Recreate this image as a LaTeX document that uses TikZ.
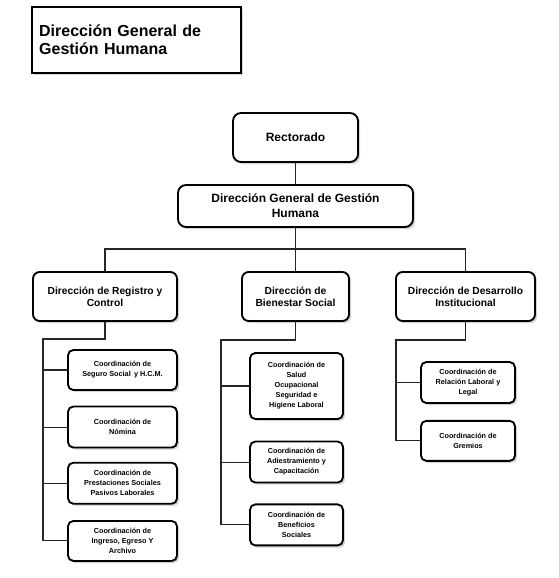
\documentclass[tikz,border=0pt]{standalone}
\usepackage{fontspec}
\setmainfont{Liberation Sans}
\usepackage{tikz}
\usetikzlibrary {positioning,
                 shadows}
\tikzset{
        base/.style={draw, line width=1.4pt, align=center, rounded corners=5pt,
                     fill=white, inner sep=1pt,
                     drop shadow={opacity=0.35, shadow xshift=1.6pt,
                                  shadow yshift=-1.6pt}},
        titlebox/.style={base, rounded corners=0pt, align=left, inner xsep=5.2pt,
                         text width=146pt, minimum height=49.5pt,
                         font=\fontsize{12}{13.75}\selectfont\bfseries},
        topbox/.style={base, rounded corners=6pt, minimum height=36.75pt,
                       font=\fontsize{9}{11.25}\selectfont\bfseries},
        dirbox/.style={base, minimum height=36.75pt,
                       font=\fontsize{7.7}{9}\selectfont\bfseries},
        coordbox/.style={base, minimum height=30pt, rounded corners=4pt,
                         font=\fontsize{5.45}{7.5}\selectfont\bfseries},
        myline/.style={line width=0.8pt, black!85},
 }

\begin{document}
\begin{tikzpicture}[x=0.75pt, y=-0.75pt]
    \useasboundingbox (0,0) rectangle (558,578);

    \node[titlebox] (title) at (136.5,40) {Dirección General de\\Gestión Humana};

    \node[topbox, minimum width=93.75pt] (rect) at (295.5,137.5) {Rectorado};
    \node[topbox, minimum width=176.25pt, minimum height=31.5pt] (dg) at (295.5,206)
        {Dirección General de Gestión\\Humana};

    \node[dirbox, minimum width=108pt] (reg) at (105,296.5) {Dirección de Registro y\\Control};
    \node[dirbox, minimum width=80.25pt] (bien) at (295.5,296.5) {Dirección de\\Bienestar Social};
    \node[dirbox, minimum width=104.25pt] (des) at (465.5,296.5) {Dirección de Desarrollo\\Institucional};

    % Registro y Control
    \node[coordbox, minimum width=81.75pt] (reg1) at (122.5,370)
        {Coordinación de\\Seguro Social\, y H.C.M.};
    \node[coordbox, minimum width=81.75pt, minimum height=30.75pt, below=11pt of reg1] (reg2)
        {Coordinación de\\Nómina};
    \node[coordbox, minimum width=81.75pt, minimum height=30.75pt, below=10pt of reg2] (reg3)
        {Coordinación de\\Prestaciones Sociales\\Pasivos Laborales};
    \node[coordbox, minimum width=81.75pt, below=11.5pt of reg3] (reg4)
        {Coordinación de\\Ingreso, Egreso Y\\Archivo};

    % Bienestar Social
    \node[coordbox, minimum width=69.75pt, minimum height=49.5pt] (bien1) at (296.5,386)
        {Coordinación de\\Salud\\Ocupacional\\Seguridad e\\Higiene Laboral};
    \node[coordbox, minimum width=69.75pt, minimum height=30.75pt, below=15.5pt of bien1] (bien2)
        {Coordinación de\\Adiestramiento y\\Capacitación};
    \node[coordbox, minimum width=69.75pt, minimum height=30.75pt, below=15pt of bien2] (bien3)
        {Coordinación de\\Beneficios\\Sociales};

    % Desarrollo Institucional
    \node[coordbox, minimum width=70.5pt, minimum height=30.75pt] (des1) at (468,382.5)
        {Coordinación de\\Relación Laboral y\\Legal};
    \node[coordbox, minimum width=70.5pt, below=12pt of des1] (des2)
        {Coordinación de\\Gremios};

    \coordinate (bus) at (295.5,249);
    \coordinate (regspine) at (43,339);
    \coordinate (bienspine) at (221,340);
    \coordinate (desspine) at (396,340);

    \draw[myline] (rect) -- (dg);
    \draw[myline] (dg) -- (bus);
    \draw[myline] (reg.north) |- (bus) -| (des.north);
    \draw[myline] (bus) -- (bien.north);

    \draw[myline] (reg.south) |- (regspine) |- (reg4.west);
    \foreach \n in {reg1,reg2,reg3}
        \draw[myline] (regspine |- \n.west) -- (\n.west);

    \draw[myline] (bien.south) |- (bienspine) |- (bien3.west);
    \foreach \n in {bien1,bien2}
        \draw[myline] (bienspine |- \n.west) -- (\n.west);

    \draw[myline] (des.south) |- (desspine) |- (des2.west);
    \draw[myline] (desspine |- des1.west) -- (des1.west);
\end{tikzpicture}
\end{document}
